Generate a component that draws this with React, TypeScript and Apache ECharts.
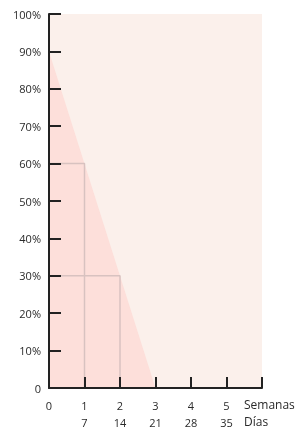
import React, { useEffect, useRef } from "react";
import * as echarts from "echarts";

const weekTicks = [0, 1, 2, 3, 4, 5];
const dayTicks = [0, 7, 14, 21, 28, 35];
const triangle = [[0, 90], [3, 0]];
const step1 = [[0, 60], [1, 60], [1, 0]];
const step2 = [[0, 30], [2, 30], [2, 0]];
const yTicks = [0, 10, 20, 30, 40, 50, 60, 70, 80, 90, 100];

export default function App() {
  const ref = useRef<HTMLDivElement>(null);
  useEffect(() => {
    const chart = echarts.init(ref.current!, null, { renderer: "svg" });
    const font = "'Open Sans', sans-serif";
    chart.setOption({
      animation: false,
      grid: {
        left: 49,
        top: 14,
        width: 213,
        height: 374,
        show: true,
        backgroundColor: "#FBF0EB",
        borderWidth: 0,
      },
      xAxis: {
        type: "value",
        min: 0,
        max: 6,
        interval: 1,
        z: 10,
        splitLine: { show: false },
        axisLine: { lineStyle: { color: "#222", width: 2 } },
        axisTick: { inside: true, length: 11, lineStyle: { color: "#222", width: 2 } },
        axisLabel: {
          margin: 9,
          color: "#2a2a2a",
          fontSize: 11,
          fontFamily: font,
          lineHeight: 17,
          formatter: (v: number) => {
            const i = weekTicks.indexOf(v);
            if (i < 0) return "";
            return i === 0 ? `${weekTicks[i]}\n ` : `${weekTicks[i]}\n${dayTicks[i]}`;
          },
        },
      },
      yAxis: {
        type: "value",
        min: 0,
        max: 100,
        interval: 10,
        z: 10,
        splitLine: { show: false },
        axisLine: { show: true, lineStyle: { color: "#222", width: 2 } },
        axisTick: { show: true, inside: true, length: 12, lineStyle: { color: "#222", width: 2 } },
        axisLabel: {
          margin: 8,
          color: "#2a2a2a",
          fontSize: 11,
          fontFamily: font,
          formatter: (v: number) => (yTicks.indexOf(v) === 0 ? "0" : `${v}%`),
        },
      },
      series: [
        {
          type: "line",
          data: triangle,
          symbol: "none",
          lineStyle: { width: 0 },
          areaStyle: { color: "#FDDFDA", opacity: 1 },
          z: 1,
        },
        {
          type: "line",
          data: step1,
          symbol: "none",
          lineStyle: { color: "#D8C2C0", width: 1.5 },
          z: 2,
        },
        {
          type: "line",
          data: step2,
          symbol: "none",
          lineStyle: { color: "#D8C2C0", width: 1.5 },
          z: 2,
        },
      ],
      graphic: [
        {
          type: "text",
          left: 244,
          top: 398,
          style: { text: "Semanas", fill: "#2a2a2a", font: `12px ${font}` },
        },
        {
          type: "text",
          left: 244,
          top: 415,
          style: { text: "Días", fill: "#2a2a2a", font: `12px ${font}` },
        },
      ],
    });
    return () => chart.dispose();
  }, []);
  return (
    <div
      ref={ref}
      style={{ position: "fixed", left: 0, top: 0, width: 298, height: 432 }}
    />
  );
}
